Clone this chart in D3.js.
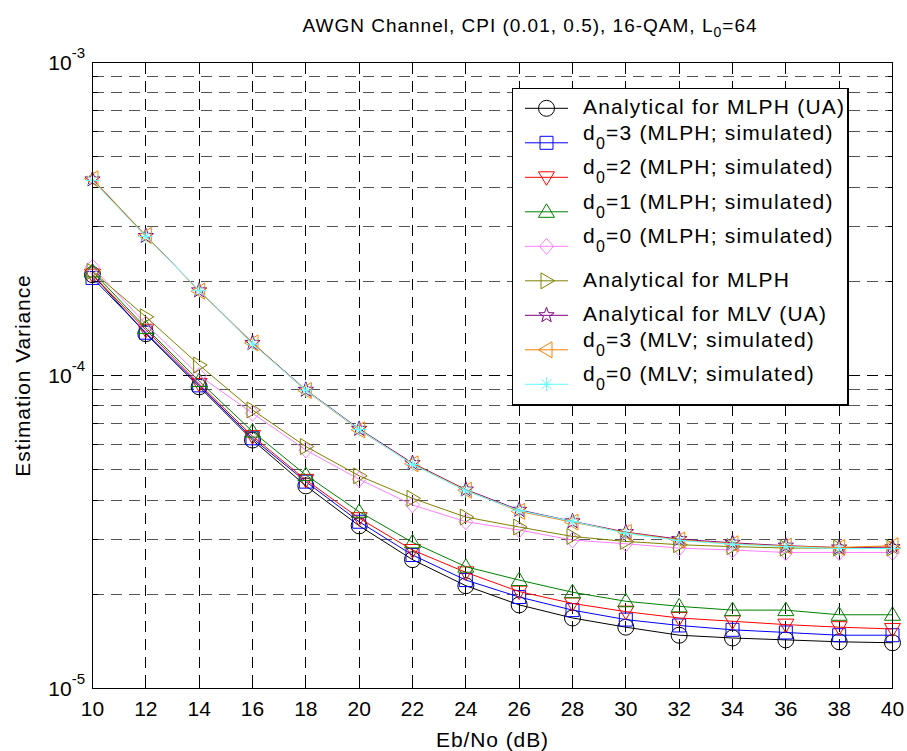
<!DOCTYPE html>
<html>
<head>
<meta charset="utf-8">
<script src="https://cdn.jsdelivr.net/npm/d3@7"></script>
<style>
  body { margin: 0; background: #fff; }
  text { font-family: "Liberation Sans", Arial, sans-serif; fill: #000; }
</style>
</head>
<body>
<div id="chart"></div>
<script>
// Eb/No values (dB)
const snr = [10, 12, 14, 16, 18, 20, 22, 24, 26, 28, 30, 32, 34, 36, 38, 40];

// estimation variance
const mlphUA   = [2.10e-4, 1.36e-4, 9.2e-5, 6.22e-5, 4.44e-5, 3.31e-5, 2.58e-5, 2.13e-5, 1.85e-5, 1.68e-5, 1.57e-5, 1.48e-5, 1.45e-5, 1.43e-5, 1.41e-5, 1.40e-5];
const mlphD3   = [2.05e-4, 1.37e-4, 9.3e-5, 6.30e-5, 4.58e-5, 3.41e-5, 2.67e-5, 2.22e-5, 1.96e-5, 1.78e-5, 1.66e-5, 1.59e-5, 1.54e-5, 1.51e-5, 1.48e-5, 1.48e-5];
const mlphD2   = [2.10e-4, 1.40e-4, 9.4e-5, 6.40e-5, 4.64e-5, 3.50e-5, 2.77e-5, 2.35e-5, 2.04e-5, 1.87e-5, 1.76e-5, 1.68e-5, 1.64e-5, 1.60e-5, 1.57e-5, 1.55e-5];
const mlphD1   = [2.15e-4, 1.42e-4, 9.6e-5, 6.62e-5, 4.81e-5, 3.67e-5, 2.93e-5, 2.45e-5, 2.22e-5, 2.03e-5, 1.90e-5, 1.83e-5, 1.78e-5, 1.78e-5, 1.72e-5, 1.72e-5];
const mlphD0   = [2.22e-4, 1.46e-4, 1.00e-4, 7.57e-5, 5.78e-5, 4.66e-5, 3.86e-5, 3.41e-5, 3.21e-5, 2.98e-5, 2.90e-5, 2.81e-5, 2.77e-5, 2.72e-5, 2.72e-5, 2.72e-5];
const mlphAn   = [2.15e-4, 1.54e-4, 1.08e-4, 7.76e-5, 5.93e-5, 4.78e-5, 4.05e-5, 3.53e-5, 3.28e-5, 3.06e-5, 2.95e-5, 2.88e-5, 2.84e-5, 2.81e-5, 2.81e-5, 2.81e-5];
const mlvUA    = [4.23e-4, 2.79e-4, 1.87e-4, 1.27e-4, 9.00e-5, 6.75e-5, 5.25e-5, 4.32e-5, 3.72e-5, 3.42e-5, 3.16e-5, 3.00e-5, 2.92e-5, 2.86e-5, 2.82e-5, 2.83e-5];
const mlvD3    = [4.25e-4, 2.80e-4, 1.86e-4, 1.27e-4, 8.95e-5, 6.70e-5, 5.22e-5, 4.30e-5, 3.68e-5, 3.40e-5, 3.15e-5, 2.98e-5, 2.90e-5, 2.85e-5, 2.82e-5, 2.86e-5];
const mlvD0    = [4.20e-4, 2.78e-4, 1.87e-4, 1.26e-4, 8.98e-5, 6.72e-5, 5.20e-5, 4.28e-5, 3.70e-5, 3.42e-5, 3.13e-5, 2.97e-5, 2.89e-5, 2.84e-5, 2.80e-5, 2.80e-5];

const xTicks = [10, 12, 14, 16, 18, 20, 22, 24, 26, 28, 30, 32, 34, 36, 38, 40];
const yMajor = [1e-5, 1e-4, 1e-3];
const yExp = ["-5", "-4", "-3"];

const series = [
  {label: "Analytical for MLPH (UA)", values: mlphUA, color: "#000000", marker: "circle"},
  {label: "d_0=3 (MLPH; simulated)",  values: mlphD3, color: "#0000ff", marker: "square"},
  {label: "d_0=2 (MLPH; simulated)",  values: mlphD2, color: "#ff0000", marker: "tridown"},
  {label: "d_0=1 (MLPH; simulated)",  values: mlphD1, color: "#008000", marker: "triup"},
  {label: "d_0=0 (MLPH; simulated)",  values: mlphD0, color: "#ff80ff", marker: "diamond"},
  {label: "Analytical for MLPH",      values: mlphAn, color: "#808000", marker: "triright"},
  {label: "Analytical for MLV (UA)",  values: mlvUA,  color: "#800080", marker: "star"},
  {label: "d_0=3 (MLV; simulated)",   values: mlvD3,  color: "#ff8000", marker: "trileft"},
  {label: "d_0=0 (MLV; simulated)",   values: mlvD0,  color: "#66ffff", marker: "asterisk"}
];

const W = 907, H = 751;
const svg = d3.select("#chart").append("svg").attr("width", W).attr("height", H);

const x = d3.scaleLinear().domain([10, 40]).range([92.5, 892.5]);
const y = d3.scaleLog().domain([1e-5, 1e-3]).range([688.5, 62.5]);

// grid
const yMinor = [];
[1e-5, 1e-4].forEach(b => { for (let k = 2; k <= 9; k++) yMinor.push(b * k); });

const grid = svg.append("g").attr("stroke", "#000").attr("stroke-width", 1)
  .attr("stroke-dasharray", "11,7").attr("shape-rendering", "crispEdges");
grid.selectAll("line.gx").data(xTicks.slice(1, -1)).enter().append("line")
  .attr("x1", d => x(d)).attr("x2", d => x(d)).attr("y1", y(1e-3)).attr("y2", y(1e-5));
grid.selectAll("line.gy").data(yMinor.concat([1e-4])).enter().append("line")
  .attr("stroke", d => yMajor.includes(d) ? "#000" : "#555")
  .attr("x1", x(10)).attr("x2", x(40)).attr("y1", d => y(d)).attr("y2", d => y(d));

// ticks (inward, all four sides)
const ticks = svg.append("g").attr("stroke", "#000").attr("shape-rendering", "crispEdges");
xTicks.forEach(t => {
  ticks.append("line").attr("x1", x(t)).attr("x2", x(t)).attr("y1", y(1e-5)).attr("y2", y(1e-5) - 8);
  ticks.append("line").attr("x1", x(t)).attr("x2", x(t)).attr("y1", y(1e-3)).attr("y2", y(1e-3) + 8);
});
yMajor.concat(yMinor).forEach(t => {
  const len = yMajor.includes(t) ? 8 : 5;
  ticks.append("line").attr("x1", x(10)).attr("x2", x(10) + len).attr("y1", y(t)).attr("y2", y(t));
  ticks.append("line").attr("x1", x(40)).attr("x2", x(40) - len).attr("y1", y(t)).attr("y2", y(t));
});

// markers
function markerPath(type) {
  switch (type) {
    case "circle": { const p = d3.path(); p.arc(0, 0, 8, 0, 2 * Math.PI); return p.toString(); }
    case "square": return "M-6.5,-6.5H6.5V6.5H-6.5Z";
    case "tridown": return "M-8,-5.5L8,-5.5L0,8Z";
    case "triup": return "M-8,5.5L8,5.5L0,-8Z";
    case "triright": return "M-5.5,-8L-5.5,8L8,0Z";
    case "trileft": return "M5.5,-8L5.5,8L-8,0Z";
    case "diamond": return "M0,-8L7,0L0,8L-7,0Z";
    case "star": {
      let s = "";
      for (let i = 0; i < 10; i++) {
        const r = i % 2 ? 3.3 : 8, a = -Math.PI / 2 + i * Math.PI / 5;
        s += (i ? "L" : "M") + (r * Math.cos(a)).toFixed(2) + "," + (r * Math.sin(a)).toFixed(2);
      }
      return s + "Z";
    }
    case "asterisk": return "M0,-7V7M-7,0H7M-5,-5L5,5M-5,5L5,-5";
  }
}

const line = d3.line().x((d, i) => x(snr[i])).y(d => y(d));
const plot = svg.append("g");
series.forEach(s => {
  const g = plot.append("g");
  g.append("path").attr("d", line(s.values)).attr("fill", "none").attr("stroke", s.color).attr("stroke-width", 1);
  g.selectAll("path.m").data(s.values).enter().append("path").attr("class", "m")
    .attr("transform", (d, i) => `translate(${x(snr[i])},${y(d)})`)
    .attr("d", markerPath(s.marker)).attr("fill", "none").attr("stroke", s.color).attr("stroke-width", 1);
});

// axes box
svg.append("rect").attr("x", x(10)).attr("y", y(1e-3)).attr("width", x(40) - x(10)).attr("height", y(1e-5) - y(1e-3))
  .attr("fill", "none").attr("stroke", "#000").attr("stroke-width", 1.3).attr("shape-rendering", "crispEdges");

// tick labels
svg.selectAll("text.xt").data(xTicks).enter().append("text")
  .attr("x", d => x(d)).attr("y", 716).attr("text-anchor", "middle").attr("font-size", 21).text(d => d);
yMajor.forEach((t, i) => {
  const tx = svg.append("text").attr("x", 85).attr("y", y(t) + 7).attr("text-anchor", "end").attr("font-size", 21);
  tx.append("tspan").text("10");
  tx.append("tspan").attr("dy", -12).attr("font-size", 15).text(yExp[i]);
});

// titles
const title = svg.append("text").attr("x", 530).attr("y", 32).attr("text-anchor", "middle")
  .attr("font-size", 19).attr("letter-spacing", 1);
title.append("tspan").text("AWGN Channel, CPI (0.01, 0.5), 16-QAM, L");
title.append("tspan").attr("dy", 5).attr("font-size", 14).text("0");
title.append("tspan").attr("dy", -5).text("=64");

svg.append("text").attr("x", 492.5).attr("y", 747).attr("text-anchor", "middle")
  .attr("font-size", 21).attr("letter-spacing", 0.9).text("Eb/No (dB)");
svg.append("text").attr("transform", "translate(30,375.5) rotate(-90)").attr("text-anchor", "middle")
  .attr("font-size", 21).attr("letter-spacing", 0.9).text("Estimation Variance");

// legend
const leg = svg.append("g");
leg.append("rect").attr("x", 512.5).attr("y", 88.5).attr("width", 335.5).attr("height", 316.5)
  .attr("fill", "#fff").attr("stroke", "#000").attr("stroke-width", 1.3).attr("shape-rendering", "crispEdges");
series.forEach((s, i) => {
  const ly = 108.3 + i * 34.5;
  leg.append("line").attr("x1", 525).attr("x2", 568).attr("y1", ly).attr("y2", ly).attr("stroke", s.color);
  leg.append("path").attr("transform", `translate(546.5,${ly})`).attr("d", markerPath(s.marker))
    .attr("fill", "none").attr("stroke", s.color);
  const hasSub = s.label.includes("_");
  const t = leg.append("text").attr("x", 583).attr("y", hasSub ? ly - 3 : ly + 6)
    .attr("font-size", 21).attr("letter-spacing", 1.2);
  if (hasSub) {
    const [a, rest] = s.label.split("_");
    t.append("tspan").text(a);
    t.append("tspan").attr("dy", 9).attr("font-size", 16).text(rest.slice(0, 1));
    t.append("tspan").attr("dy", -9).text(rest.slice(1));
  } else {
    t.text(s.label);
  }
});
</script>
</body>
</html>
